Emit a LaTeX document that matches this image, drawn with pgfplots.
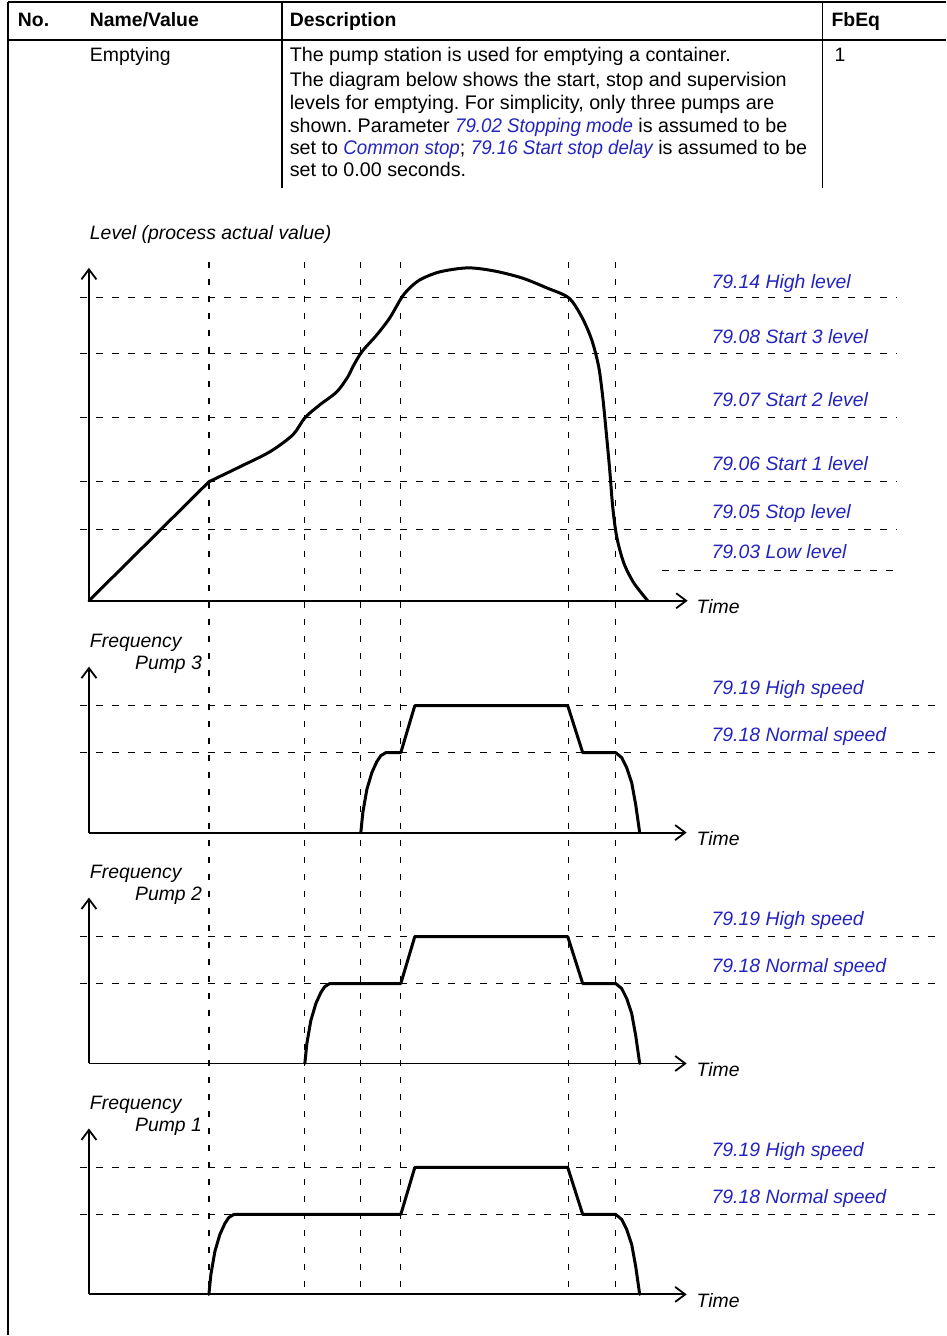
\documentclass[border=0pt]{standalone}
\usepackage{fontspec}
\setmainfont{Liberation Sans}
\usepackage{graphicx}
\usepackage{pgfplots}
\pgfplotsset{compat=1.18}
\usetikzlibrary{arrows.meta}
\definecolor{ablue}{RGB}{35,35,190}
\newcommand{\bl}[1]{\textcolor{ablue}{\itshape\scalebox{0.95}[1]{#1}}}
\newcommand{\fs}{\fontsize{19.4}{22}\selectfont\frenchspacing}
\newcommand{\fd}{\fontsize{19.7}{22}\selectfont\frenchspacing}
\tikzset{
  t/.style={font=\fs, inner sep=0pt, outer sep=0pt, anchor=base west},
  td/.style={t, font=\fd},
  tb/.style={t, font=\fs\bfseries},
  ti/.style={t, font=\fs\itshape},
  tl/.style={t, font=\fs\itshape, text=ablue},
  hd/.style={black, line width=1.2pt, dash pattern=on 7pt off 9pt},
  vd/.style={black, line width=1.2pt, dash pattern=on 6pt off 11pt},
  ax/.style={black, line width=1.8pt, -{Straight Barb[length=10pt,width=15pt]}},
  cv/.style={black, line width=3pt, line join=round, line cap=round}
}
\begin{document}
\begin{tikzpicture}
\begin{axis}[width=946pt,height=1336pt,scale only axis,
  xmin=0,xmax=946,ymin=0,ymax=1336,y dir=reverse,hide axis,clip=false]
\path (0,0) rectangle (946,1336);
% ---------- table ----------
\addplot[black, line width=1.6pt] coordinates {(8,2)(946,2)};
\addplot[black, line width=1.6pt] coordinates {(8,40)(946,40)};
\addplot[black, line width=1.3pt] coordinates {(8,2)(8,1336)};
\addplot[black, line width=1.3pt] coordinates {(282,2)(282,188)};
\addplot[black, line width=1.3pt] coordinates {(823,2)(823,188)};
\node[tb] at (18,27) {No.};
\node[tb] at (90,27) {Name/Value};
\node[tb] at (290,27) {Description};
\node[tb] at (832,27) {FbEq};
\node[t] at (90,62) {Emptying};
\node[t] at (835,62) {1};
\node[td] at (290,62) {The pump station is used for emptying a container.};
\node[td] at (290,87) {The diagram below shows the start, stop and supervision};
\node[td] at (290,110) {levels for emptying. For simplicity, only three pumps are};
\node[td] at (290,133) {shown. Parameter \bl{79.02 Stopping mode} is assumed to be};
\node[td] at (290,155) {set to \bl{Common stop}; \bl{79.16 Start stop delay} is assumed to be};
\node[td] at (290,177) {set to 0.00 seconds.};
% ---------- level chart ----------
\node[ti] at (90,240) {Level (process actual value)};
\addplot[vd] coordinates {(209,262)(209,1296)};
\addplot[vd] coordinates {(305,262)(305,1296)};
\addplot[vd] coordinates {(361,262)(361,1296)};
\addplot[vd] coordinates {(401,262)(401,1296)};
\addplot[vd] coordinates {(569,262)(569,1296)};
\addplot[vd] coordinates {(616,262)(616,1296)};
\addplot[hd] coordinates {(80,298)(897,298)};
\addplot[hd] coordinates {(80,354)(897,354)};
\addplot[hd] coordinates {(80,418)(897,418)};
\addplot[hd] coordinates {(80,482)(897,482)};
\addplot[hd] coordinates {(80,530)(897,530)};
\addplot[hd] coordinates {(662,571)(897,571)};
\addplot[ax] coordinates {(89,601)(89,268)};
\addplot[ax] coordinates {(89,601)(688,601)};
\node[ti] at (697,614) {Time};
\addplot[cv] coordinates {(89,601)(209,482)};
\addplot[cv, smooth, tension=0.5] coordinates {
(209,482)(240,467)(270,452)(293,435)(305,418)(320,405)(337,392)(348,377)(353,367)(362,352)
(377,335)(390,318)(401,299)(408,290)(420,280)(440,272)(468,268)(494,271)(522,278)(547,288)
(569,298)(582,317)(592,340)(599,367)(603,397)(606,427)(610,470)(613,507)(617,537)(624,563)
(634,583)(648,601)};
\node[tl] at (712,289) {79.14 High level};
\node[tl] at (712,344) {79.08 Start 3 level};
\node[tl] at (712,407) {79.07 Start 2 level};
\node[tl] at (712,471) {79.06 Start 1 level};
\node[tl] at (712,519) {79.05 Stop level};
\node[tl] at (712,559) {79.03 Low level};
% ---------- pump 3 ----------
\addplot[hd] coordinates {(80,706)(942,706)};
\addplot[hd] coordinates {(80,753)(942,753)};
\addplot[ax] coordinates {(89,833)(89,667)};
\addplot[ax] coordinates {(89,833)(687,833)};
\node[ti] at (90,648) {Frequency};
\node[ti, anchor=base east] at (202,670) {Pump 3};
\node[ti] at (697,846) {Time};
\node[tl] at (712,695) {79.19 High speed};
\node[tl] at (712,742) {79.18 Normal speed};
\addplot[cv] coordinates {
(361,833)(363,813)(367,790)(372,773)(377,762)(381,756)(386,753)(401,753)(415,706)(568,706)
(583,753)(616,753)(622,758)(627,768)(632,783)(636,805)(640,833)};
% ---------- pump 2 ----------
\addplot[hd] coordinates {(80,937)(942,937)};
\addplot[hd] coordinates {(80,984)(942,984)};
\addplot[ax] coordinates {(89,1064)(89,898)};
\addplot[ax] coordinates {(89,1064)(687,1064)};
\node[ti] at (90,879) {Frequency};
\node[ti, anchor=base east] at (202,901) {Pump 2};
\node[ti] at (697,1077) {Time};
\node[tl] at (712,926) {79.19 High speed};
\node[tl] at (712,973) {79.18 Normal speed};
\addplot[cv] coordinates {
(305,1064)(307,1044)(311,1021)(316,1004)(321,993)(325,987)(330,984)(401,984)(415,937)(568,937)
(583,984)(616,984)(622,989)(627,999)(632,1014)(636,1036)(640,1064)};
% ---------- pump 1 ----------
\addplot[hd] coordinates {(80,1168)(942,1168)};
\addplot[hd] coordinates {(80,1215)(942,1215)};
\addplot[ax] coordinates {(89,1295)(89,1129)};
\addplot[ax] coordinates {(89,1295)(687,1295)};
\node[ti] at (90,1110) {Frequency};
\node[ti, anchor=base east] at (202,1132) {Pump 1};
\node[ti] at (697,1308) {Time};
\node[tl] at (712,1157) {79.19 High speed};
\node[tl] at (712,1204) {79.18 Normal speed};
\addplot[cv] coordinates {
(209,1295)(211,1275)(215,1252)(220,1235)(225,1224)(229,1218)(234,1215)(401,1215)(415,1168)(568,1168)
(583,1215)(616,1215)(622,1220)(627,1230)(632,1245)(636,1267)(640,1295)};
\end{axis}
\end{tikzpicture}
\end{document}
